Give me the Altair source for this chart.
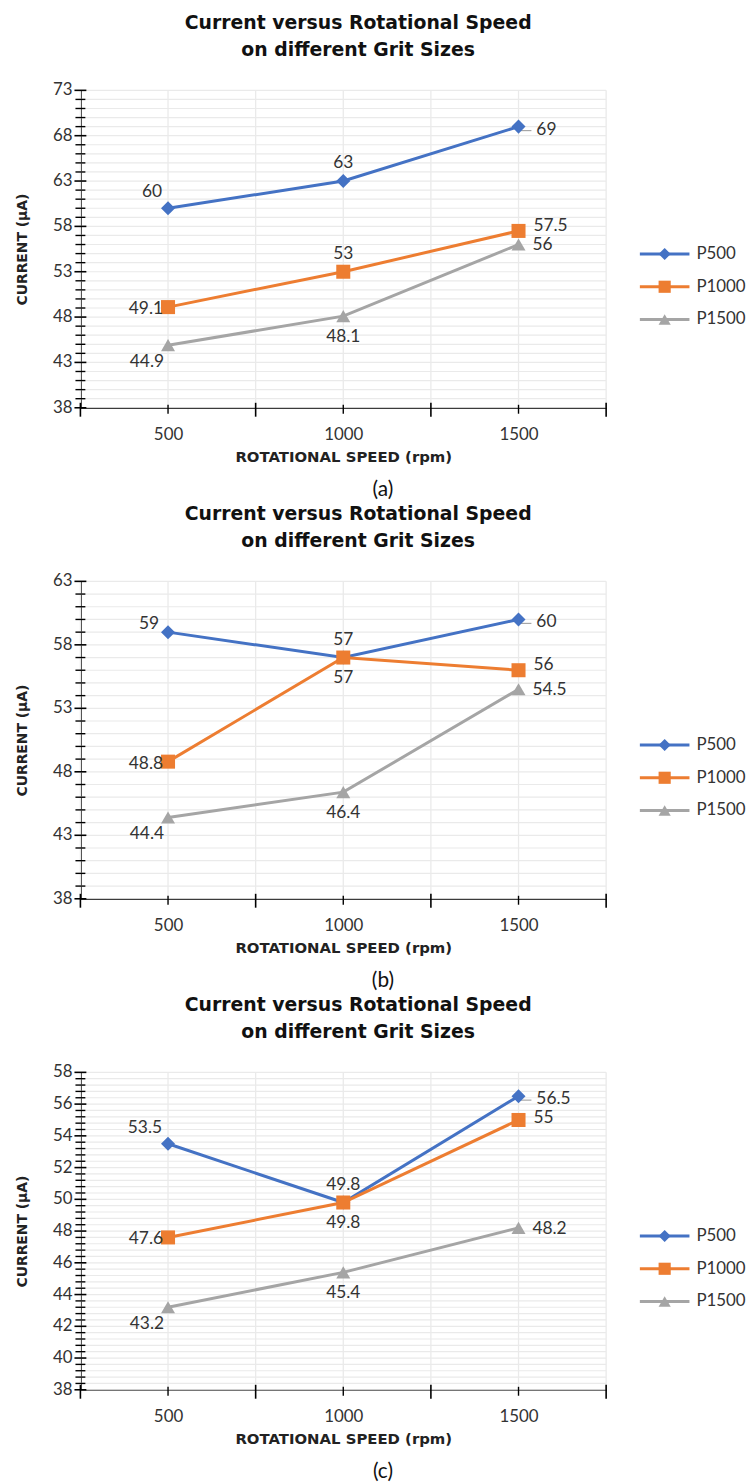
import altair as alt
import pandas as pd
import numpy as np

# ---------------- data ----------------
speeds = [500, 1000, 1500]
series_names = ["P500", "P1000", "P1500"]
series_colors = ["#4472C4", "#ED7D31", "#A5A5A5"]
series_shapes = ["diamond", "square", "triangle-up"]

a_p500 = [60, 63, 69]
a_p1000 = [49.1, 53, 57.5]
a_p1500 = [44.9, 48.1, 56]

b_p500 = [59, 57, 60]
b_p1000 = [48.8, 57, 56]
b_p1500 = [44.4, 46.4, 54.5]

c_p500 = [53.5, 49.8, 56.5]
c_p1000 = [47.6, 49.8, 55]
c_p1500 = [43.2, 45.4, 48.2]

# data-label placement (category per point)
a_place = [["aboveleft", "above", "rightfar"],
           ["left", "above", "rightup"],
           ["belowleft", "below", "right"]]
b_place = [["leftup", "above", "rightfar"],
           ["left", "below", "rightup"],
           ["belowleft", "below", "right"]]
c_place = [["aboveleft", "above", "rightfar"],
           ["left", "below", "rightmid"],
           ["belowleft", "below", "right"]]

x_tick_labels = [500, 1000, 1500]
captions = ["(a)", "(b)", "(c)"]
title_line1 = "Current versus Rotational Speed"
title_line2 = "on different Grit Sizes"
x_title = "ROTATIONAL SPEED (rpm)"
y_title = "CURRENT (\u00b5A)"

# ---------------- styles ----------------
FONT = "Lato"
BOLD = "DejaVu Sans"
W, H = 530, 320
TXT = "#333333"
LABEL_STYLE = {
    "above": dict(align="center", dx=0, dy=-18),
    "below": dict(align="center", dx=0, dy=21),
    "left": dict(align="right", dx=-5, dy=2),
    "leftup": dict(align="right", dx=-9, dy=-8),
    "right": dict(align="left", dx=14, dy=1),
    "rightmid": dict(align="left", dx=15, dy=-2),
    "rightup": dict(align="left", dx=15, dy=-5),
    "rightfar": dict(align="left", dx=18, dy=3),
    "aboveleft": dict(align="right", dx=-6, dy=-16),
    "belowleft": dict(align="right", dx=-4, dy=17),
}

color_scale = alt.Scale(domain=series_names, range=series_colors)
shape_scale = alt.Scale(domain=series_names, range=series_shapes)


def panel(vals, places, ymin, ymax, major, minor, caption):
    rows = []
    for s, v, p in zip(series_names, vals, places):
        for sp, val, pl in zip(speeds, v, p):
            rows.append({"speed": sp, "current": val, "series": s, "place": pl})
    df = pd.DataFrame(rows)

    xs = alt.Scale(domain=[250, 1750], nice=False, zero=False)
    ys = alt.Scale(domain=[ymin, ymax], nice=False, zero=False)

    y_major = [float(round(v, 2)) for v in np.arange(ymin, ymax + 1e-9, major)]
    y_minor = [float(round(v, 2)) for v in np.arange(ymin, ymax + 1e-9, minor)]
    x_grid = list(range(250, 1751, 250))

    ygrid_df = pd.DataFrame({"v": y_minor})
    xgrid_df = pd.DataFrame({"v": x_grid})
    ymaj_df = pd.DataFrame({"v": y_major, "lab": [str(int(v)) for v in y_major]})
    ymin_df = pd.DataFrame({"v": [v for v in y_minor if v not in y_major]})
    xmaj_df = pd.DataFrame({"v": [250, 750, 1250, 1750]})
    xmin_df = pd.DataFrame({"v": x_tick_labels})

    hgrid = alt.Chart(ygrid_df).mark_rule(color="#EAEAEA", strokeWidth=1.2).encode(
        y=alt.Y("v:Q", scale=ys, axis=alt.Axis(
            title=y_title, values=y_major, grid=False, ticks=False, labels=False,
            domainColor="#000000", domainWidth=1.6,
            titleFont=BOLD, titleFontSize=14, titleFontWeight="bold",
            titleColor="#222222", titleX=-51, titleY=H / 2,
        )),
        x=alt.value(0), x2=alt.value(W),
    )
    vgrid = alt.Chart(xgrid_df).mark_rule(color="#EAEAEA", strokeWidth=1.3).encode(
        x=alt.X("v:Q", scale=xs, axis=alt.Axis(
            title=x_title, values=x_tick_labels, grid=False, ticks=False,
            labelOverlap=False, format="d",
            domainColor="#000000", domainWidth=1.6, labelPadding=19,
            labelFontSize=17, labelColor=TXT, labelFont=FONT,
            titleFont=BOLD, titleFontSize=15, titleFontWeight="bold",
            titleColor="#222222", titlePadding=7,
        )),
        y=alt.value(0), y2=alt.value(H),
    )
    ylabels = alt.Chart(ymaj_df).mark_text(
        font=FONT, fontSize=17, color=TXT, align="right", baseline="middle", dx=-8
    ).encode(y=alt.Y("v:Q", scale=ys), x=alt.value(0), text="lab:N")
    ytick_major = alt.Chart(ymaj_df).mark_rule(color="#000000", strokeWidth=1.6).encode(
        y=alt.Y("v:Q", scale=ys), x=alt.value(-6), x2=alt.value(6))
    ytick_minor = alt.Chart(ymin_df).mark_rule(color="#000000", strokeWidth=1.4).encode(
        y=alt.Y("v:Q", scale=ys), x=alt.value(-5), x2=alt.value(5))
    xtick_major = alt.Chart(xmaj_df).mark_rule(color="#000000", strokeWidth=1.6).encode(
        x=alt.X("v:Q", scale=xs), y=alt.value(H - 5), y2=alt.value(H + 9))
    xtick_minor = alt.Chart(xmin_df).mark_rule(color="#000000", strokeWidth=1.4).encode(
        x=alt.X("v:Q", scale=xs), y=alt.value(H - 3), y2=alt.value(H + 6))

    base = alt.Chart(df)
    enc_xy = dict(x=alt.X("speed:Q", scale=xs), y=alt.Y("current:Q", scale=ys))
    lines = base.mark_line(strokeWidth=3).encode(
        color=alt.Color("series:N", scale=color_scale, legend=None),
        detail="series:N", **enc_xy,
    )
    leaders = base.transform_filter(alt.datum.place == "rightfar").mark_tick(
        orient="horizontal", size=12, thickness=1.2, color="#A6A6A6",
        xOffset=7, yOffset=4, opacity=1,
    ).encode(**enc_xy)
    points = base.mark_point(filled=True, opacity=1, size=200).encode(
        color=alt.Color("series:N", scale=color_scale, legend=None),
        shape=alt.Shape("series:N", scale=shape_scale, legend=None),
        **enc_xy,
    )
    texts = []
    for key, st in LABEL_STYLE.items():
        if key not in df["place"].values:
            continue
        texts.append(
            base.transform_filter(alt.datum.place == key).mark_text(
                font=FONT, fontSize=17.5, color=TXT, baseline="middle", **st
            ).encode(text=alt.Text("current:Q"), **enc_xy)
        )
    cap = alt.Chart(pd.DataFrame({"t": [caption]})).mark_text(
        font=FONT, fontSize=21, color="#111111", baseline="middle", align="center"
    ).encode(text="t:N", x=alt.value(305), y=alt.value(403))

    plot = alt.layer(hgrid, vgrid, ytick_minor, ytick_major, xtick_minor, xtick_major,
                     ylabels, lines, leaders, points, *texts, cap).properties(
        width=W, height=H,
        title=alt.TitleParams(
            text=title_line1, subtitle=title_line2,
            font=BOLD, fontSize=19, fontWeight="bold", color="#111111",
            subtitleFont=BOLD, subtitleFontSize=19, subtitleFontWeight="bold",
            subtitleColor="#111111", subtitlePadding=8,
            frame="group", anchor="middle", dx=15, offset=22,
        ),
    )

    leg_df = pd.DataFrame({"series": series_names})
    ly = alt.Y("series:N", scale=alt.Scale(type="point", domain=series_names,
                                           range=[165, 231], padding=0), axis=None)
    lrule = alt.Chart(leg_df).mark_rule(strokeWidth=3).encode(
        y=ly, x=alt.value(33), x2=alt.value(83),
        color=alt.Color("series:N", scale=color_scale, legend=None))
    lpt = alt.Chart(leg_df).mark_point(filled=True, opacity=1, size=150).encode(
        y=ly, x=alt.value(58),
        color=alt.Color("series:N", scale=color_scale, legend=None),
        shape=alt.Shape("series:N", scale=shape_scale, legend=None))
    ltxt = alt.Chart(leg_df).mark_text(font=FONT, fontSize=17, color=TXT,
                                       align="left", baseline="middle").encode(
        y=ly, x=alt.value(90), text="series:N")
    legend = alt.layer(lrule, lpt, ltxt).properties(width=136, height=H)

    return alt.hconcat(plot, legend, spacing=0)


pa = panel([a_p500, a_p1000, a_p1500], a_place, 38, 73, 5, 1, captions[0])
pb = panel([b_p500, b_p1000, b_p1500], b_place, 38, 63, 5, 1, captions[1])
pc = panel([c_p500, c_p1000, c_p1500], c_place, 38, 58, 2, 0.4, captions[2])

chart = alt.vconcat(pa, pb, pc, spacing=5).properties(
    padding={"left": 8, "top": 0, "right": 0, "bottom": 0}
).configure_view(stroke=None).configure_axis(labelOverlap=False)

chart.save("out.html", embed_options={"renderer": "svg", "actions": False})
